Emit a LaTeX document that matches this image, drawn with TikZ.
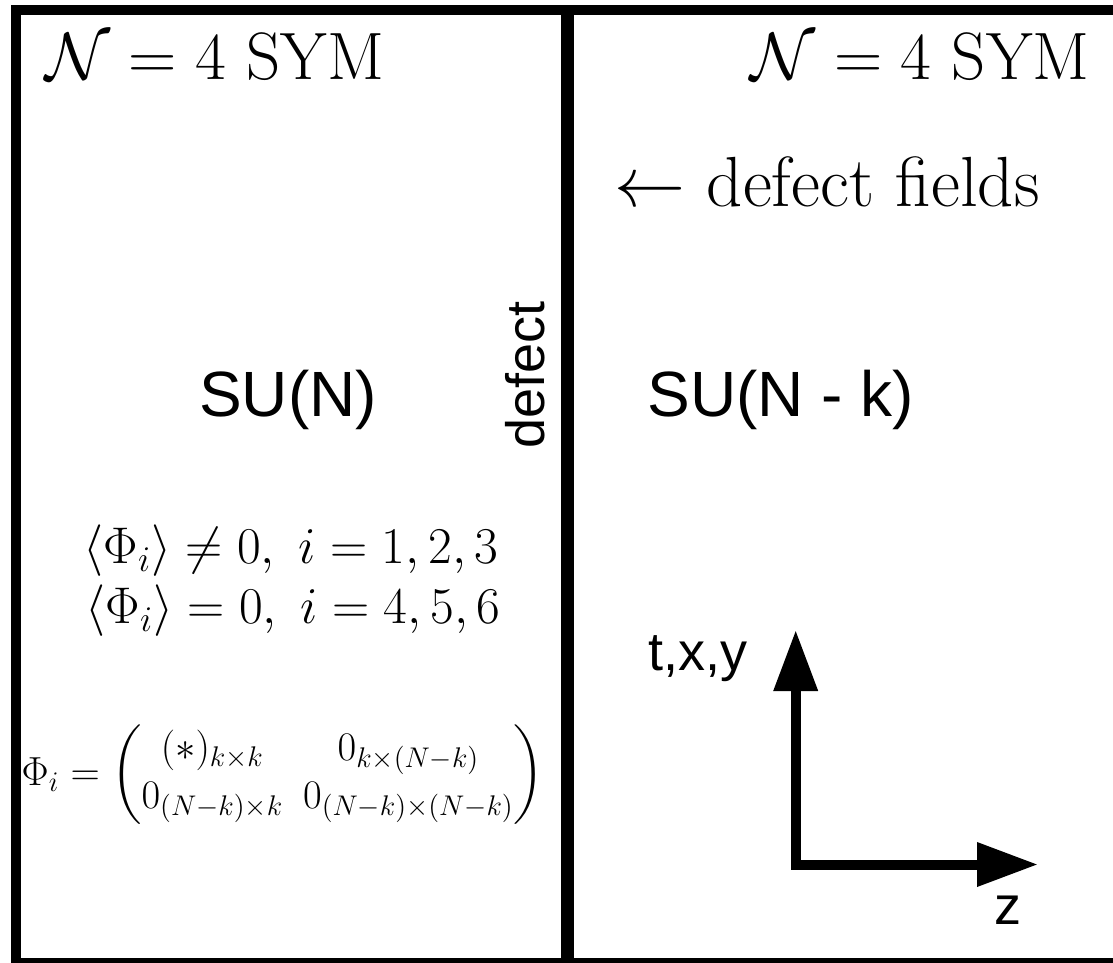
\RequirePackage{fix-cm}
\documentclass[tikz,border=0pt]{standalone}
\usepackage{amsmath}
\usepackage{fontspec}
\setsansfont{Liberation Sans}
\usetikzlibrary{arrows.meta}

\begin{document}
\begin{tikzpicture}[x=0.5pt,y=-0.5pt,
    title/.style={anchor=base west,inner sep=0pt,font=\fontsize{33.5}{40}\selectfont},
    group/.style={font=\sffamily\fontsize{32}{38}\selectfont},
    vev/.style={font=\fontsize{25.8}{31}\selectfont},
    axlabel/.style={font=\sffamily\fontsize{27}{32}\selectfont},
    axis/.style={line width=5pt,line join=miter,
      {Triangle[length=30.5pt,width=21pt]}-{Triangle[length=30.5pt,width=21pt]}}]
  \useasboundingbox (0,0) rectangle (1113,963);
  % frame and defect wall
  \draw[line width=5pt] (16,10) rectangle (1125,963);
  \draw[line width=6.5pt] (567.5,10) -- (567.5,963);

  \node[title] (symL) at (45,80) {$\mathcal{N}=4$ SYM};
  \node[title,anchor=base east] (symR) at (1090,80) {$\mathcal{N}=4$ SYM};
  \node[title,font=\fontsize{35.5}{42}\selectfont] (fields) at (614,206) {$\leftarrow$ defect fields};

  \node[group] (suN) at (288,400) {SU(N)};
  \node[group] (suNk) at (781,400) {SU(N - k)};
  \node[font=\sffamily\fontsize{27}{32}\selectfont,rotate=90] (wall) at (525,375) {defect};

  \node[vev] (vevA) at (291,551) {$\langle\Phi_i\rangle\neq0,\ i=1,2,3$};
  \node[vev] (vevB) at (293,611) {$\langle\Phi_i\rangle=0,\ i=4,5,6$};
  \node[font=\fontsize{20.3}{24}\selectfont] (mat) at (283,775)
    {$\Phi_i=\begin{pmatrix}(*)_{k\times k} & 0_{k\times(N-k)}\\ 0_{(N-k)\times k} & 0_{(N-k)\times(N-k)}\end{pmatrix}$};

  % axes
  \coordinate (orig) at (795.7,864.5);
  \coordinate (tup) at (795.7,630);
  \coordinate (tz) at (1038,864.5);
  \draw[axis] (tup) -- (orig) -- (tz);
  \node[axlabel,anchor=base east] (txy) at (755,670) {t,x,y};
  \node[axlabel] (zlab) at (1008,910) {z};
\end{tikzpicture}
\end{document}
